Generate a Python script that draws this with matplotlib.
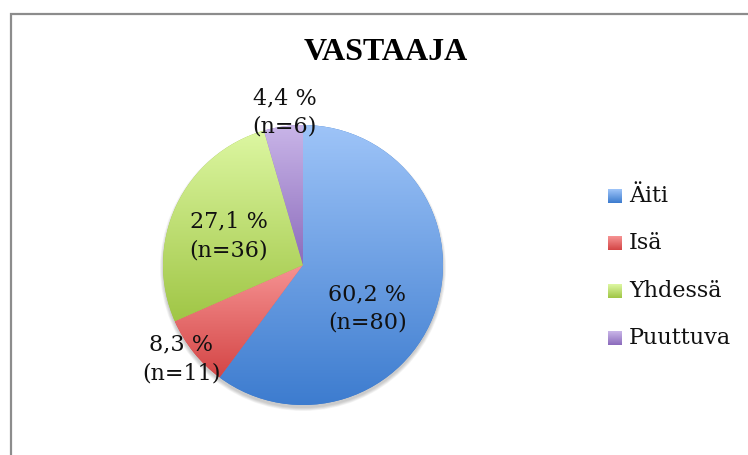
import numpy as np
import matplotlib

matplotlib.use("Agg")
import matplotlib.pyplot as plt
from matplotlib.colors import LinearSegmentedColormap
from matplotlib.patches import Rectangle, Circle

# ── Data ──────────────────────────────────────────────────────────
labels = ["Äiti", "Isä", "Yhdessä", "Puuttuva"]
counts = [80, 11, 36, 6]
percents = ["60,2 %", "8,3 %", "27,1 %", "4,4 %"]

# gradient colours (top, bottom) per slice
grad_top = ["#9ec4f8", "#f69393", "#ddf7a2", "#c9b5e8"]
grad_bot = ["#3d7ccf", "#d44646", "#a0c646", "#8c6cbc"]

# label offsets relative to pie centre, in radius units
label_off = [(0.46, -0.31), (-0.87, -0.67), (-0.53, 0.21), (-0.13, 1.09)]

W, H = 748, 455
CX, CY, R = 303, 455 - 265, 140

fig = plt.figure(figsize=(W / 100, H / 100), dpi=100)
ax = fig.add_axes([0, 0, 1, 1])

# soft shadow under the pie
for k in range(6):
    ax.add_patch(Circle((CX, CY - 3), R + 0.6 * k, facecolor="#000000",
                        alpha=0.035, lw=0, zorder=0.5))

wedges, _ = ax.pie(counts, startangle=90, counterclock=False,
                   center=(CX, CY), radius=R, frame=True,
                   wedgeprops=dict(linewidth=0))

for i, w in enumerate(wedges):
    w.set_facecolor(grad_bot[i])
    w.set_zorder(1)
    ext = w.get_path().get_extents()
    cmap = LinearSegmentedColormap.from_list(f"g{i}", [grad_bot[i], grad_top[i]])
    grad = np.linspace(0, 1, 256).reshape(-1, 1)
    im = ax.imshow(grad, extent=[ext.x0, ext.x1, ext.y0, ext.y1], origin="lower",
                   cmap=cmap, aspect="auto", zorder=2, interpolation="bilinear")
    im.set_clip_path(w)

    dx, dy = label_off[i]
    ax.text(CX + dx * R, CY + dy * R, f"{percents[i]}\n(n={counts[i]})",
            ha="center", va="center", fontsize=16, family="DejaVu Serif",
            linespacing=1.4, color="#111111", zorder=5)

# legend drawn by hand
leg_y = [196, 243, 291, 338]
for i, lab in enumerate(labels):
    y = H - leg_y[i]
    cmap = LinearSegmentedColormap.from_list(f"l{i}", [grad_bot[i], grad_top[i]])
    ax.imshow(np.linspace(0, 1, 32).reshape(-1, 1), extent=[608, 622, y - 7, y + 7],
              origin="lower", cmap=cmap, aspect="auto", zorder=3)
    ax.text(629, y, lab, ha="left", va="center", fontsize=16,
            family="DejaVu Serif", color="#111111")

ax.set_xlim(0, W)
ax.set_ylim(0, H)
ax.set_aspect("equal")
ax.axis("off")

ax.text(386, H - 52, "VASTAAJA", ha="center", va="center", fontsize=23,
        fontweight="bold", family="Liberation Serif", color="#000000")

# chart border (right and bottom fall outside the image)
ax.add_patch(Rectangle((11, -20), 900, H - 14 + 20, fill=False,
                       edgecolor="#8c8c8c", lw=1.6, zorder=6))

fig.savefig("out.png", dpi=100)
